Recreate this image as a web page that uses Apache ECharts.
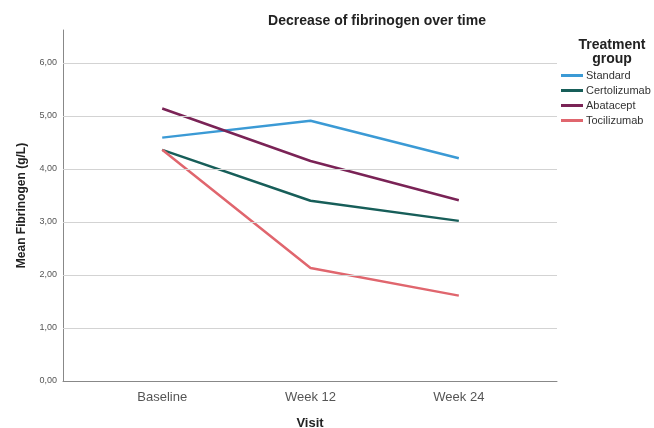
<!DOCTYPE html>
<html>
<head>
<meta charset="utf-8">
<script src="https://cdn.jsdelivr.net/npm/echarts@6/dist/echarts.min.js"></script>
<style>html,body{margin:0;padding:0;background:#fff;overflow:hidden;}#c{width:654px;height:428px;}</style>
</head>
<body>
<div id="c"></div>
<script>
const categories = ['Baseline', 'Week 12', 'Week 24'];
const standard = [4.59, 4.91, 4.20];
const certolizumab = [4.36, 3.40, 3.02];
const abatacept = [5.14, 4.15, 3.41];
const tocilizumab = [4.36, 2.13, 1.61];
const yTicks = [0, 1, 2, 3, 4, 5, 6];

const seriesDefs = [
  {name: 'Standard', values: standard, color: '#3b9ad5'},
  {name: 'Certolizumab', values: certolizumab, color: '#175e59'},
  {name: 'Abatacept', values: abatacept, color: '#7a2356'},
  {name: 'Tocilizumab', values: tocilizumab, color: '#e0666e'}
];

const font = '"Liberation Sans", Arial, sans-serif';
const chart = echarts.init(document.getElementById('c'));
chart.setOption({
  backgroundColor: '#fff',
  animation: false,
  textStyle: {fontFamily: font},
  title: [
    {text: 'Decrease of fibrinogen over time', left: 372, top: 9, textAlign: 'center',
     textStyle: {fontSize: 14, fontWeight: 'bold', color: '#222', fontFamily: font}},
    {text: 'Treatment\ngroup', left: 607, top: 33, textAlign: 'center',
     textStyle: {fontSize: 14, fontWeight: 'bold', color: '#222', lineHeight: 14, fontFamily: font}}
  ],
  legend: {
    orient: 'vertical', left: 556, top: 64, itemWidth: 22, itemHeight: 3, itemGap: 2,
    icon: 'rect',
    textStyle: {fontSize: 11, color: '#333', lineHeight: 13, padding: [0, 0, 0, -2], fontFamily: font},
    data: seriesDefs.map(s => s.name)
  },
  grid: {left: 63, right: 97, top: 30, bottom: 47, outerBoundsMode: 'none', containLabel: false},
  xAxis: {
    type: 'value', min: -0.669, max: 2.662,
    name: 'Visit', nameLocation: 'middle', nameGap: 36,
    nameTextStyle: {fontSize: 13, fontWeight: 'bold', color: '#222'},
    axisLine: {show: true, onZero: false, lineStyle: {color: '#888', width: 1}},
    axisTick: {show: false},
    splitLine: {show: false},
    axisLabel: {customValues: [0, 1, 2], formatter: v => categories[Math.round(v)] || '',
      fontSize: 13, color: '#555', margin: 10}
  },
  yAxis: {
    type: 'value', min: 0, max: 6.62,
    name: 'Mean Fibrinogen (g/L)', nameLocation: 'middle', nameGap: 35, nameRotate: 90,
    nameTextStyle: {fontSize: 12, fontWeight: 'bold', color: '#222'},
    axisLine: {show: true, onZero: false, lineStyle: {color: '#888', width: 1}},
    axisTick: {show: false, customValues: yTicks},
    axisLabel: {customValues: yTicks, formatter: v => v.toFixed(2).replace('.', ','),
      fontSize: 9, color: '#555', margin: 6},
    splitLine: {show: false}
  },
  series: seriesDefs.map((s, i) => ({
    name: s.name, type: 'line', showSymbol: false, symbol: 'none',
    data: s.values.map((v, j) => [j, v]),
    lineStyle: {width: 2.5, color: s.color}, itemStyle: {color: s.color},
    z: 3,
    markLine: i === 0 ? {
      silent: true, symbol: 'none', label: {show: false},
      lineStyle: {color: '#d3d3d3', width: 1, type: 'solid'},
      data: yTicks.filter(t => t > 0).map(t => ({yAxis: t}))
    } : undefined
  }))
});
</script>
</body>
</html>
